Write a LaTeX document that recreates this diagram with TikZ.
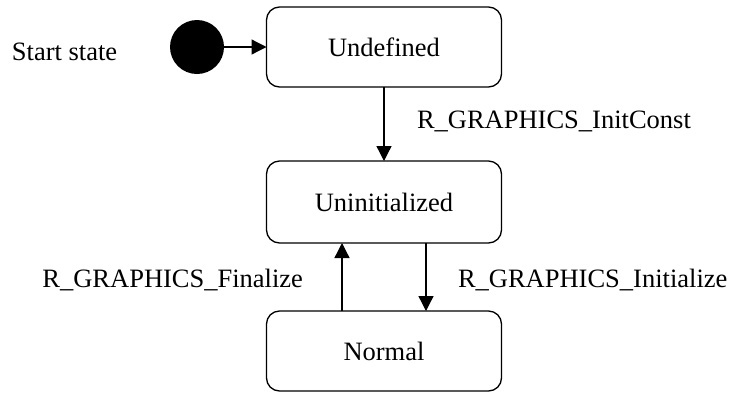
\documentclass[tikz,border=0pt]{standalone}
\usepackage{fontspec}
\setmainfont{Liberation Serif}
\usetikzlibrary{arrows.meta}
\begin{document}
\begin{tikzpicture}[x=1pt,y=-1pt,
  statebox/.style={draw=black, line width=1.3pt, rounded corners=13pt, minimum width=235pt, minimum height=80pt, inner sep=0pt, outer sep=0pt, font=\fontsize{26.5}{30}\selectfont},
  lbl/.style={inner sep=0pt, outer sep=0pt, font=\fontsize{26.5}{30}\selectfont},
  conn/.style={line width=1.3pt, -{Triangle[length=15pt,width=15pt]}}]
\useasboundingbox (0,0) rectangle (731,392);
\node[circle, fill=black, minimum size=54pt, inner sep=0pt, outer sep=0pt] (start) at (197,47) {};
\node[statebox] (und) at (384,47) {Undefined};
\node[statebox, minimum height=82pt] (uni) at (384,202) {Uninitialized};
\node[statebox] (nor) at (384,351) {Normal};
\node[lbl, anchor=base west] (lstart) at (12,60) {Start state};
\node[lbl, anchor=base west] (linit) at (417,128) {R\_GRAPHICS\_InitConst};
\node[lbl, anchor=base east] (lfin) at (303,287) {R\_GRAPHICS\_Finalize};
\node[lbl, anchor=base west] (linz) at (458,287) {R\_GRAPHICS\_Initialize};
\draw[conn] (start) -- (und);
\draw[conn] (und) -- (uni);
\draw[conn] ([xshift=-42pt]nor.north) -- ([xshift=-42pt]uni.south);
\draw[conn] ([xshift=42pt]uni.south) -- ([xshift=42pt]nor.north);
\end{tikzpicture}
\end{document}
